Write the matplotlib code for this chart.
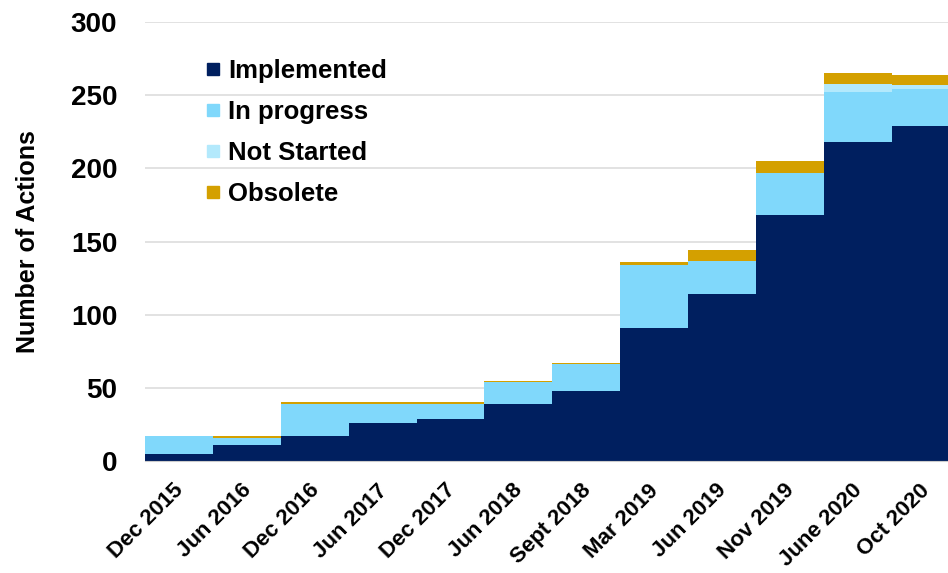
import matplotlib
matplotlib.use('Agg')
import matplotlib.pyplot as plt
from matplotlib.lines import Line2D
from matplotlib.transforms import ScaledTranslation
import numpy as np

plt.rcParams['font.family'] = ['Liberation Sans', 'DejaVu Sans']
plt.rcParams['font.weight'] = 'bold'

periods = ['Dec 2015', 'Jun 2016', 'Dec 2016', 'Jun 2017', 'Dec 2017', 'Jun 2018',
           'Sept 2018', 'Mar 2019', 'Jun 2019', 'Nov 2019', 'June 2020', 'Oct 2020']
implemented = [5, 11, 17, 26, 29, 39, 48, 91, 114, 168, 218, 229]
in_progress = [12, 5, 22, 13, 10, 15, 18, 43, 23, 29, 34, 25]
not_started = [0, 0, 0, 0, 0, 0, 0, 0, 0, 0, 6, 3]
obsolete = [0, 1, 1, 1, 1, 1, 1, 2, 7, 8, 7, 7]

series = [('Implemented', implemented, '#001f5f'),
          ('In progress', in_progress, '#80d8fb'),
          ('Not Started', not_started, '#b3e9fc'),
          ('Obsolete', obsolete, '#d4a000')]

fig = plt.figure(figsize=(9.48, 5.73), dpi=100)
ax = fig.add_axes([0.153, 0.1955, 0.847, 0.766])

x = np.arange(len(periods))
bottom = np.zeros(len(periods))
handles = []
for name, vals, col in series:
    ax.bar(x, vals, width=1.0, bottom=bottom, color=col, linewidth=0, zorder=2)
    bottom += np.array(vals, dtype=float)
    handles.append(Line2D([], [], linestyle='none', marker='s', markersize=9,
                          markerfacecolor=col, markeredgecolor=col, label=name))

ax.set_xlim(-0.5, 11.33)
ax.set_ylim(0, 300)
ax.set_yticks(range(0, 301, 50))
ax.grid(axis='y', color='#dddddd', linewidth=1.2)
ax.set_axisbelow(True)
for s in ['top', 'right', 'left']:
    ax.spines[s].set_visible(False)
ax.spines['bottom'].set_color('#cccccc')

ax.tick_params(axis='y', length=0, pad=20, labelsize=20)
ax.tick_params(axis='x', length=0, pad=19, labelsize=16)
ax.set_xticks(x)
ax.set_xticklabels(periods, rotation=45, ha='right', va='center', rotation_mode='anchor')
offset = ScaledTranslation(1 / 72, 0, fig.dpi_scale_trans)
for lbl in ax.get_xticklabels():
    lbl.set_transform(lbl.get_transform() + offset)

ax.set_ylabel('Number of Actions', fontsize=18, fontweight='bold', labelpad=22)

ax.legend(handles=handles, loc='upper left', bbox_to_anchor=(0.059, 0.945),
          frameon=False, fontsize=18.5, handlelength=0.6, handletextpad=0.3,
          labelspacing=0.66, borderpad=0)

fig.savefig('out.png', dpi=100)
